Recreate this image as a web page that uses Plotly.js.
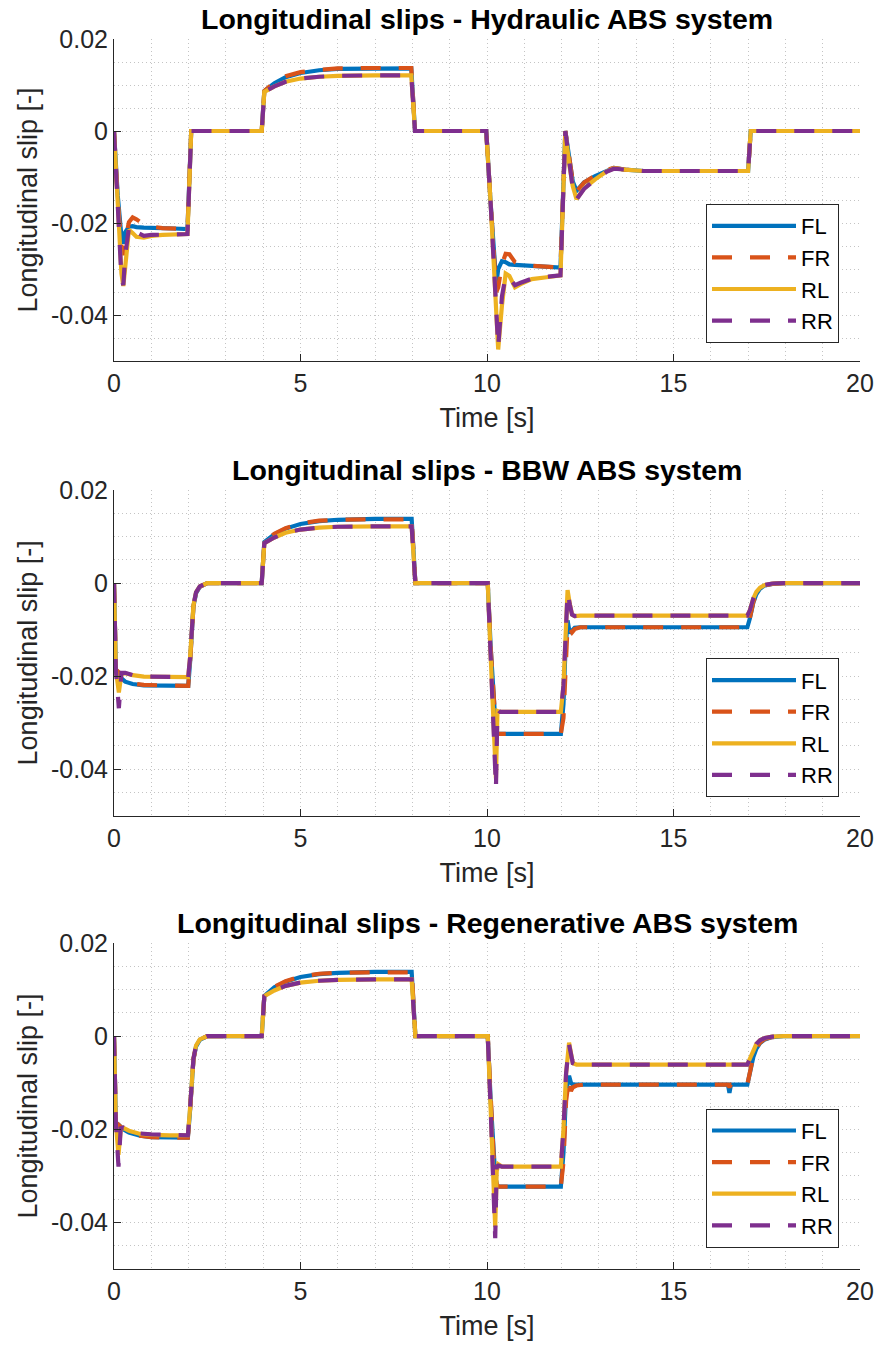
<!DOCTYPE html>
<html><head><meta charset="utf-8">
<script src="https://cdn.plot.ly/plotly-3.0.1.min.js"></script>
<style>html,body{margin:0;padding:0;background:#fff}#chart{width:881px;height:1352px}</style>
</head><body><div id="chart"></div>
<script>
// ---------- data ----------
const wheelNames = ['FL', 'FR', 'RL', 'RR'];
const subplotTitles = [
  'Longitudinal slips - Hydraulic ABS system',
  'Longitudinal slips - BBW ABS system',
  'Longitudinal slips - Regenerative ABS system'
];
const xTitle = 'Time [s]';
const yTitle = 'Longitudinal slip [-]';
const xTickVals = [0, 5, 10, 15, 20];
const xTickText = ['0', '5', '10', '15', '20'];
const yTickVals = [0.02, 0, -0.02, -0.04];
const yTickText = ['0.02', '0', '-0.02', '-0.04'];

// Hydraulic ABS
const hT = [0, 0.1, 0.2, 0.25, 0.3, 0.4, 0.5, 0.6, 0.8, 1.0, 1.3, 1.6, 1.97, 2.07, 3.96, 4.03, 4.3, 4.6, 5.0, 5.5, 6.0, 7.0, 7.97, 8.07, 9.98, 10.1, 10.2, 10.25, 10.3, 10.4, 10.5, 10.6, 10.75, 10.9, 11.2, 11.6, 11.97, 12.1, 12.2, 12.3, 12.4, 12.6, 12.9, 13.2, 13.4, 13.7, 14.2, 15.0, 16.0, 17.0, 17.07, 20.0];
const hFL = [0, -0.014, -0.023, -0.0245, -0.022, -0.0208, -0.0207, -0.0209, -0.021, -0.021, -0.0211, -0.0212, -0.0213, 0, 0, 0.0087, 0.0104, 0.0117, 0.0126, 0.0132, 0.0135, 0.0136, 0.0136, 0, 0, -0.016, -0.030, -0.0333, -0.030, -0.0283, -0.0285, -0.029, -0.0291, -0.0292, -0.0293, -0.0295, -0.0297, 0, -0.006, -0.011, -0.013, -0.0112, -0.0098, -0.0086, -0.008, -0.0084, -0.0087, -0.0087, -0.0087, -0.0087, 0, 0];
const hFR = [0, -0.015, -0.025, -0.027, -0.024, -0.0198, -0.0188, -0.0192, -0.0203, -0.0208, -0.0211, -0.0212, -0.0213, 0, 0, 0.0087, 0.0106, 0.0119, 0.0128, 0.0133, 0.0136, 0.0137, 0.0137, 0, 0, -0.016, -0.031, -0.035, -0.034, -0.029, -0.0267, -0.0268, -0.0285, -0.029, -0.0293, -0.0295, -0.0297, 0, -0.006, -0.011, -0.0132, -0.0112, -0.0097, -0.0085, -0.008, -0.0084, -0.0087, -0.0087, -0.0087, -0.0087, 0, 0];
const hRL = [0, -0.018, -0.031, -0.0337, -0.029, -0.0215, -0.0222, -0.023, -0.0232, -0.0228, -0.0226, -0.0225, -0.0224, 0, 0, 0.0085, 0.0097, 0.0107, 0.0114, 0.0118, 0.012, 0.0121, 0.0121, 0, 0, -0.016, -0.032, -0.040, -0.0475, -0.038, -0.031, -0.0315, -0.034, -0.0333, -0.0322, -0.0318, -0.0314, 0, -0.007, -0.012, -0.0148, -0.0125, -0.0105, -0.0088, -0.0081, -0.0084, -0.0087, -0.0087, -0.0087, -0.0087, 0, 0];
const hRR = [0, -0.018, -0.032, -0.0335, -0.027, -0.021, -0.0205, -0.022, -0.0228, -0.0226, -0.0225, -0.0225, -0.0224, 0, 0, 0.0085, 0.0097, 0.0107, 0.0114, 0.0118, 0.012, 0.0121, 0.0121, 0, 0, -0.016, -0.033, -0.043, -0.047, -0.036, -0.0315, -0.032, -0.0335, -0.033, -0.0321, -0.0317, -0.0314, 0, -0.007, -0.0125, -0.0149, -0.0126, -0.0106, -0.0089, -0.0082, -0.0084, -0.0087, -0.0087, -0.0087, -0.0087, 0, 0];

// BBW ABS
const bT = [0, 0.05, 0.13, 0.2, 0.3, 0.5, 0.8, 1.2, 1.6, 1.99, 2.04, 2.08, 2.13, 2.2, 2.3, 2.5, 3.96, 4.03, 4.3, 4.6, 5.0, 5.5, 6.0, 7.0, 7.98, 8.08, 10.02, 10.1, 10.2, 10.24, 10.28, 10.35, 10.6, 11.0, 11.5, 11.98, 12.05, 12.1, 12.16, 12.22, 12.28, 12.35, 12.5, 13.0, 14.0, 15.0, 16.0, 16.98, 17.05, 17.14, 17.22, 17.32, 17.45, 17.65, 17.95, 20.0];
const bFL = [0, -0.0186, -0.0195, -0.0205, -0.0212, -0.0217, -0.022, -0.0221, -0.0221, -0.0221, -0.017, -0.010, -0.005, -0.0022, -0.0008, 0, 0, 0.0088, 0.0105, 0.0117, 0.0127, 0.0133, 0.0136, 0.0138, 0.0138, 0, 0, -0.014, -0.029, -0.0318, -0.0324, -0.0324, -0.0324, -0.0324, -0.0324, -0.0324, -0.026, -0.015, -0.008, -0.0108, -0.0102, -0.0096, -0.0095, -0.0095, -0.0095, -0.0095, -0.0095, -0.0095, -0.0075, -0.0042, -0.0024, -0.0012, -0.0005, -0.0002, 0, 0];
const bFR = [0, -0.0186, -0.0192, -0.0203, -0.0211, -0.0216, -0.0219, -0.022, -0.0221, -0.0221, -0.017, -0.010, -0.005, -0.0022, -0.0008, 0, 0, 0.0088, 0.0106, 0.0118, 0.0128, 0.0134, 0.0136, 0.0137, 0.0137, 0, 0, -0.014, -0.029, -0.0318, -0.0324, -0.0324, -0.0324, -0.0324, -0.0324, -0.0324, -0.029, -0.020, -0.009, -0.0098, -0.0106, -0.0099, -0.0095, -0.0095, -0.0095, -0.0095, -0.0095, -0.0095, -0.0074, -0.0041, -0.0023, -0.0012, -0.0005, -0.0002, 0, 0];
const bRL = [0, -0.0186, -0.0235, -0.0195, -0.0194, -0.0198, -0.0201, -0.0202, -0.0202, -0.0202, -0.016, -0.0095, -0.0048, -0.002, -0.0007, 0, 0, 0.0086, 0.0098, 0.0108, 0.0115, 0.0119, 0.0121, 0.0122, 0.0122, 0, 0, -0.016, -0.034, -0.042, -0.0275, -0.0277, -0.0277, -0.0277, -0.0277, -0.0277, -0.022, -0.011, -0.0015, -0.0045, -0.0068, -0.0071, -0.007, -0.007, -0.007, -0.007, -0.007, -0.007, -0.0058, -0.0033, -0.0019, -0.001, -0.0004, -0.0001, 0, 0];
const bRR = [0, -0.0186, -0.0269, -0.0193, -0.0193, -0.0198, -0.0201, -0.0202, -0.0202, -0.0202, -0.016, -0.0095, -0.0048, -0.002, -0.0007, 0, 0, 0.0086, 0.0098, 0.0108, 0.0115, 0.0119, 0.0121, 0.0122, 0.0122, 0, 0, -0.016, -0.035, -0.0441, -0.0272, -0.0277, -0.0277, -0.0277, -0.0277, -0.0277, -0.022, -0.011, -0.002, -0.0046, -0.0068, -0.0071, -0.007, -0.007, -0.007, -0.007, -0.007, -0.007, -0.0058, -0.0033, -0.0019, -0.001, -0.0004, -0.0001, 0, 0];

// Regenerative ABS
const rT = [0, 0.05, 0.12, 0.18, 0.25, 0.4, 0.7, 1.0, 1.5, 1.98, 2.03, 2.08, 2.13, 2.2, 2.3, 2.5, 3.96, 4.03, 4.3, 4.6, 5.0, 5.5, 6.0, 7.0, 7.9, 7.98, 8.08, 10.02, 10.1, 10.18, 10.22, 10.26, 10.3, 10.4, 10.8, 11.5, 11.98, 12.05, 12.12, 12.2, 12.25, 12.3, 12.4, 12.6, 13.0, 14.0, 15.0, 16.0, 16.46, 16.5, 16.54, 16.98, 17.05, 17.14, 17.22, 17.32, 17.45, 17.65, 17.95, 20.0];
const rFL = [0, -0.0186, -0.019, -0.0196, -0.02, -0.0207, -0.0214, -0.0217, -0.0218, -0.0218, -0.017, -0.010, -0.005, -0.0022, -0.0008, 0, 0, 0.0086, 0.0105, 0.0117, 0.0127, 0.0133, 0.0136, 0.0138, 0.0138, 0.0138, 0, 0, -0.014, -0.026, -0.030, -0.0318, -0.0323, -0.0323, -0.0323, -0.0323, -0.0323, -0.025, -0.012, -0.0085, -0.010, -0.0104, -0.0104, -0.0104, -0.0104, -0.0104, -0.0104, -0.0104, -0.0104, -0.0122, -0.0104, -0.0104, -0.0075, -0.0045, -0.0027, -0.0015, -0.0007, -0.0002, 0, 0];
const rFR = [0, -0.0186, -0.019, -0.0196, -0.02, -0.0207, -0.0214, -0.0217, -0.0218, -0.0218, -0.017, -0.010, -0.005, -0.0022, -0.0008, 0, 0, 0.0086, 0.0106, 0.0118, 0.0128, 0.0134, 0.0136, 0.0137, 0.0137, 0.0142, 0, 0, -0.014, -0.026, -0.030, -0.0318, -0.0323, -0.0323, -0.0323, -0.0323, -0.0323, -0.027, -0.014, -0.009, -0.0118, -0.011, -0.0106, -0.0104, -0.0104, -0.0104, -0.0104, -0.0104, -0.0104, -0.011, -0.0104, -0.0104, -0.0073, -0.0043, -0.0026, -0.0014, -0.0006, -0.0002, 0, 0];
const rRL = [0, -0.0186, -0.0255, -0.02, -0.0197, -0.0203, -0.021, -0.0212, -0.0213, -0.0213, -0.0165, -0.0095, -0.0048, -0.002, -0.0007, 0, 0, 0.0086, 0.0098, 0.0108, 0.0115, 0.0119, 0.0121, 0.0122, 0.0122, 0.0122, 0, 0, -0.016, -0.032, -0.041, -0.029, -0.0275, -0.028, -0.028, -0.028, -0.028, -0.02, -0.008, -0.0014, -0.004, -0.0058, -0.0061, -0.0061, -0.0061, -0.0061, -0.0061, -0.0061, -0.0061, -0.0061, -0.0061, -0.0061, -0.0048, -0.0029, -0.0017, -0.0009, -0.0004, -0.0001, 0, 0];
const rRR = [0, -0.0186, -0.028, -0.0198, -0.0196, -0.0202, -0.0209, -0.0211, -0.0212, -0.0213, -0.0165, -0.0095, -0.0048, -0.002, -0.0007, 0, 0, 0.0086, 0.0098, 0.0108, 0.0115, 0.0119, 0.0121, 0.0122, 0.0122, 0.0122, 0, 0, -0.016, -0.033, -0.0434, -0.028, -0.0278, -0.028, -0.028, -0.028, -0.028, -0.02, -0.008, -0.0018, -0.0042, -0.0058, -0.0061, -0.0061, -0.0061, -0.0061, -0.0061, -0.0061, -0.0061, -0.0045, -0.0061, -0.0061, -0.0048, -0.0029, -0.0017, -0.0009, -0.0004, -0.0001, 0, 0];

// ---------- styling ----------
const lineColors = ['#0072BD', '#D95319', '#EDB120', '#7E2F8E'];
const lineDashes = ['solid', '20px,18px', 'solid', '20px,18px'];
const FONT = 'Liberation Sans, Arial, Helvetica, sans-serif';
const AXC = '#262626';
const GRIDC = '#c4c4c4';

const panels = [
  {t: hT, ys: [hFL, hFR, hRL, hRR]},
  {t: bT, ys: [bFL, bFR, bRL, bRR]},
  {t: rT, ys: [rFL, rFR, rRL, rRR]}
];
// pixel geometry of each panel (top, bottom) in a 1352px tall figure
const H = 1352;
const panelPx = [[39, 361], [490, 815.7], [943, 1269]];
const legendBottomPx = [343, 797.3, 1247.7];

const traces = [];
panels.forEach((p, i) => {
  const sfx = i === 0 ? '' : String(i + 1);
  p.ys.forEach((y, k) => {
    traces.push({
      type: 'scatter', mode: 'lines',
      x: p.t, y: y, name: wheelNames[k],
      xaxis: 'x' + sfx, yaxis: 'y' + sfx,
      legend: 'legend' + sfx,
      line: {color: lineColors[k], width: 4.2, dash: lineDashes[k]},
      hoverinfo: 'skip'
    });
  });
});

const layout = {
  width: 881, height: 1352,
  margin: {l: 114, r: 21, t: 0, b: 0, pad: 0},
  paper_bgcolor: '#fff', plot_bgcolor: '#fff',
  font: {family: FONT, color: AXC},
  annotations: []
};

panels.forEach((p, i) => {
  const sfx = i === 0 ? '' : String(i + 1);
  const [top, bot] = panelPx[i];
  layout['xaxis' + sfx] = {
    domain: [0, 1], anchor: 'y' + sfx, range: [0, 20],
    tickmode: 'array', tickvals: xTickVals, ticktext: xTickText,
    ticks: 'inside', ticklen: 7, tickwidth: 1, tickcolor: AXC,
    showline: true, linecolor: AXC, linewidth: 1, mirror: false,
    showgrid: true, gridcolor: GRIDC, griddash: '1px,3px', gridwidth: 1,
    minor: {dtick: 1, tick0: 0, showgrid: true, gridcolor: GRIDC, griddash: '1px,3px', gridwidth: 1, ticks: ''},
    zeroline: false, automargin: false,
    tickfont: {family: FONT, size: 25, color: AXC},
    title: {text: xTitle, font: {family: FONT, size: 27, color: AXC}, standoff: 12}
  };
  layout['yaxis' + sfx] = {
    domain: [1 - bot / H, 1 - top / H], anchor: 'x' + sfx, range: [-0.05, 0.02],
    tickmode: 'array', tickvals: yTickVals, ticktext: yTickText,
    ticks: 'inside', ticklen: 7, tickwidth: 1, tickcolor: AXC,
    showline: true, linecolor: AXC, linewidth: 1, mirror: false,
    showgrid: true, gridcolor: GRIDC, griddash: '1px,3px', gridwidth: 1,
    minor: {dtick: 0.005, tick0: 0, showgrid: true, gridcolor: GRIDC, griddash: '1px,3px', gridwidth: 1, ticks: ''},
    zeroline: false, automargin: false,
    tickfont: {family: FONT, size: 25, color: AXC},
    title: {text: yTitle, font: {family: FONT, size: 27, color: AXC}, standoff: 5}
  };
  layout['legend' + sfx] = {
    x: (839 - 114) / 746, xanchor: 'right', xref: 'paper',
    y: 1 - legendBottomPx[i] / H, yanchor: 'bottom', yref: 'paper',
    bgcolor: '#fff', bordercolor: AXC, borderwidth: 1,
    font: {family: FONT, size: 22, color: '#000'},
    itemwidth: 84, tracegroupgap: 0
  };
  layout.annotations.push({
    text: '<b>' + subplotTitles[i] + '</b>',
    xref: 'x' + sfx + ' domain', yref: 'y' + sfx + ' domain',
    x: 0.5, y: 1, xanchor: 'center', yanchor: 'middle', yshift: 20,
    showarrow: false, font: {family: FONT, size: 28.5, color: '#000'}
  });
});

Plotly.newPlot('chart', traces, layout, {displayModeBar: false, staticPlot: true});
</script>
</body></html>
